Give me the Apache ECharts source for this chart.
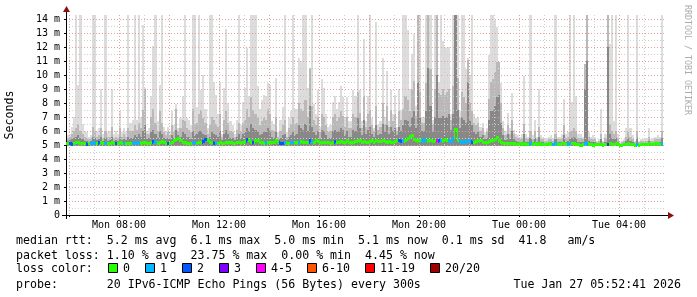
<!DOCTYPE html>
<html><head><meta charset="utf-8">
<script src="https://cdn.jsdelivr.net/npm/echarts@6/dist/echarts.min.js"></script>
<style>html,body{margin:0;padding:0;background:#fff}#c{width:697px;height:297px}</style>
</head><body><div id="c"></div>
<script>
// ---- time base (hours since Mon 00:00) ----
const firstStepStart = 5 + 50 / 60;          // first 5-minute step starts Mon 05:50
const stepHours = 5 / 60;
const axisStart = 5 + 52 / 60 + 41 / 3600;   // Mon 05:52:41
const axisEnd = axisStart + 24;              // Tue 05:52:41
const yMax = 100 / 7;

// ---- smoke: upper edges of the grey bands per 5-minute step (ms) ----
const maxRtt = [
 5.5,5.7,5.8,6.3,7.0,14.4,9.3,14.4,6.5,6.0,
 5.9,5.6,5.7,14.4,14.4,6.0,6.2,9.0,5.8,14.4,
 5.9,6.0,9.0,5.8,6.0,5.8,7.4,5.9,6.2,5.9,
 14.4,6.6,6.8,14.4,6.8,14.4,7.0,13.6,9.1,6.0,
 6.2,8.5,12.1,14.4,6.7,9.3,14.4,6.3,6.0,6.3,
 6.0,7.4,6.4,7.9,6.2,6.9,8.5,14.4,6.9,6.8,
 6.4,14.4,14.4,7.7,14.4,8.9,10.0,7.6,6.2,14.4,
 14.4,9.5,8.6,7.2,9.5,5.8,9.1,13.3,8.0,6.7,
 6.4,5.8,6.8,14.4,6.4,8.1,9.1,11.9,8.5,14.4,
 14.4,14.4,9.2,7.6,8.2,8.6,8.5,9.4,9.3,6.7,
 6.5,9.8,5.9,6.8,7.7,14.4,5.9,6.9,7.4,14.4,
 7.6,7.6,11.2,11.0,14.4,14.4,9.1,10.5,14.4,7.9,
 7.2,8.9,6.3,9.7,9.1,7.2,6.3,6.4,8.1,8.5,
 7.6,8.1,9.2,8.4,6.9,8.4,6.7,6.7,8.9,8.5,
 14.4,8.9,6.7,12.6,6.7,8.5,14.4,6.9,6.2,13.8,
 6.4,6.7,11.2,7.0,10.3,6.7,8.9,7.2,8.6,6.3,
 9.0,7.5,14.4,14.4,13.2,9.0,11.5,12.9,7.8,14.4,
 14.4,7.0,7.0,14.4,14.4,14.4,6.8,14.4,14.4,9.5,
 14.4,12.4,12.0,11.9,12.0,7.2,14.4,14.4,14.4,7.4,
 14.4,14.4,10.4,11.2,10.0,14.4,7.2,6.9,7.0,6.3,
 6.6,5.9,6.2,11.4,14.4,14.4,13.9,13.4,10.9,9.4,
 6.7,6.0,7.3,6.2,8.7,6.1,5.8,5.7,5.6,5.8,
 9.9,5.8,5.6,14.4,5.7,6.8,5.6,9.0,5.7,5.6,
 5.5,5.5,5.6,5.7,5.5,14.4,5.6,5.6,5.8,8.3,
 5.8,5.9,14.4,8.1,14.4,8.5,5.8,5.8,5.6,10.8,
 14.4,5.9,5.6,5.7,5.6,5.3,5.4,7.6,5.3,5.8,
 14.4,12.2,14.4,6.7,14.4,5.8,5.2,5.3,5.4,6.2,
 14.4,6.2,5.7,5.3,14.4,5.3,5.4,5.4,5.5,5.5,
 6.2,5.4,5.5,5.6,5.7,5.6,14.4
];
const hiRtt = [
 5.4,5.5,5.6,5.8,6.0,6.2,6.5,6.0,5.8,5.6,
 5.5,5.4,5.5,6.3,6.0,5.6,5.7,6.2,5.5,6.0,
 5.6,5.6,6.3,5.5,5.6,5.5,6.2,5.6,5.8,5.6,
 6.2,6.0,6.0,6.4,6.1,6.6,6.2,7.5,9.0,5.8,
 5.8,7.0,7.6,6.6,6.0,7.4,6.6,5.9,5.7,5.9,
 5.7,6.4,5.9,7.6,5.9,6.2,6.8,6.7,6.2,6.1,
 5.9,7.6,6.5,6.6,7.2,7.5,6.9,6.6,5.8,6.4,
 7.0,6.8,6.5,6.3,7.2,5.6,6.8,7.4,6.6,6.0,
 5.9,5.6,6.1,6.6,5.9,6.6,6.8,7.6,7.0,8.4,
 7.5,7.2,6.9,6.4,6.7,6.9,6.8,7.6,7.2,6.1,
 6.0,7.0,5.6,6.0,6.4,6.8,5.6,6.2,6.5,7.0,
 6.5,6.6,8.0,7.6,7.4,8.2,7.0,10.5,7.8,6.8,
 6.4,7.0,5.9,7.2,7.0,6.4,5.9,6.0,7.0,7.2,
 6.7,7.0,7.4,7.1,6.3,7.0,6.2,6.2,7.2,7.0,
 8.8,7.3,6.2,8.5,6.3,7.2,7.5,6.4,6.0,7.8,
 6.1,6.3,8.0,6.5,7.8,6.3,7.5,6.7,7.2,6.0,
 7.4,6.8,7.6,8.5,8.2,7.4,8.9,9.6,7.1,14.4,
 8.8,6.6,6.6,9.4,14.4,10.4,6.5,9.0,14.4,8.7,
 8.6,9.0,8.6,8.8,9.0,6.8,9.2,14.4,9.8,6.9,
 8.8,8.4,8.0,11.1,8.0,7.4,6.6,6.4,6.6,6.0,
 6.2,5.7,5.9,8.3,9.5,9.7,10.2,10.9,10.9,8.0,
 6.2,5.7,6.4,5.8,6.8,5.8,5.6,5.5,5.4,5.5,
 6.5,5.5,5.4,6.0,5.4,6.0,5.4,6.3,5.4,5.4,
 5.3,5.3,5.4,5.4,5.3,5.8,5.4,5.4,5.5,6.4,
 5.5,5.6,5.9,6.0,6.2,6.0,5.5,5.5,5.4,10.8,
 14.4,5.6,5.4,5.4,5.4,5.2,5.3,5.8,5.2,5.5,
 14.4,6.5,6.0,5.8,6.0,5.5,5.1,5.2,5.3,5.6,
 5.9,5.6,5.4,5.2,6.0,5.2,5.3,5.3,5.3,5.3,
 5.6,5.3,5.3,5.4,5.4,5.4,6.0
];
const midRtt = [
 5.25,5.3,5.35,5.4,5.5,5.6,5.7,5.5,5.4,5.3,
 5.3,5.25,5.3,5.6,5.5,5.35,5.4,5.6,5.3,5.5,
 5.3,5.35,5.6,5.3,5.35,5.3,5.6,5.35,5.45,5.35,
 5.6,5.5,5.5,5.7,5.55,5.8,5.6,6.0,6.4,5.45,
 5.5,5.9,6.1,5.8,5.5,6.0,5.8,5.5,5.4,5.5,
 5.4,5.7,5.5,6.1,5.7,5.6,5.9,5.8,5.6,5.55,
 5.45,6.0,5.7,5.8,6.0,6.0,5.8,5.7,5.4,5.6,
 5.9,5.8,5.7,5.6,6.0,5.35,5.8,6.1,5.8,5.5,
 5.5,5.35,5.6,5.8,5.5,5.8,5.9,6.2,6.0,6.5,
 6.2,6.1,5.9,5.7,5.8,5.9,5.9,6.2,6.0,5.6,
 5.5,5.9,5.35,5.5,5.7,5.8,5.35,5.6,5.7,5.9,
 5.7,5.8,6.4,6.2,6.1,6.5,6.0,7.8,6.3,5.9,
 5.7,6.0,5.45,6.1,6.0,5.7,5.45,5.5,6.0,6.1,
 5.9,6.0,6.2,6.1,5.7,6.0,5.6,5.6,6.1,6.0,
 6.9,6.2,5.7,6.8,5.8,6.1,6.3,5.8,5.6,6.4,
 5.7,5.8,6.5,5.9,6.4,5.8,6.3,6.0,6.2,5.7,
 6.3,6.0,6.4,6.8,6.7,6.3,7.0,7.4,6.2,9.5,
 7.0,6.0,6.0,7.4,10.5,7.8,5.9,7.0,10.0,6.9,
 6.9,7.1,6.9,7.0,7.2,6.1,7.2,14.4,7.5,6.2,
 7.0,6.8,6.6,9.5,6.7,6.4,5.9,5.8,5.9,5.6,
 5.7,5.4,5.5,6.8,7.4,7.5,7.8,8.4,8.6,6.6,
 5.7,5.35,5.8,5.4,6.0,5.4,5.3,5.25,5.2,5.25,
 5.8,5.25,5.2,5.5,5.2,5.5,5.2,5.6,5.2,5.2,
 5.15,5.15,5.2,5.2,5.15,5.4,5.2,5.2,5.25,5.7,
 5.25,5.3,5.5,5.5,5.6,5.5,5.25,5.25,5.2,9.0,
 11.0,5.3,5.2,5.2,5.2,5.1,5.15,5.4,5.1,5.25,
 12.0,5.8,5.5,5.4,5.5,5.25,5.05,5.1,5.15,5.3,
 5.5,5.3,5.2,5.1,5.5,5.1,5.15,5.15,5.15,5.15,
 5.3,5.15,5.15,5.2,5.2,5.2,5.5
];
// ---- median rtt per step (ms) ----
const medianRtt = [
 5.08,5.1,5.1,5.05,5.12,5.15,5.15,5.1,5.1,5.08,
 5.05,5.08,5.1,5.15,5.12,5.1,5.15,5.2,5.1,5.12,
 5.1,5.1,5.15,5.1,5.12,5.1,5.15,5.1,5.12,5.1,
 5.12,5.1,5.1,5.15,5.12,5.15,5.1,5.15,5.2,5.1,
 5.12,5.2,5.25,5.2,5.12,5.2,5.25,5.15,5.1,5.12,
 5.1,5.15,5.3,5.4,5.45,5.3,5.2,5.15,5.1,5.1,
 5.12,5.15,5.1,5.12,5.15,5.2,5.25,5.4,5.35,5.2,
 5.15,5.1,5.1,5.12,5.15,5.1,5.12,5.15,5.2,5.15,
 5.1,5.12,5.15,5.15,5.12,5.15,5.25,5.4,5.35,5.2,
 5.15,5.3,5.35,5.2,5.15,5.1,5.15,5.2,5.2,5.15,
 5.15,5.3,5.15,5.1,5.12,5.15,5.1,5.12,5.15,5.15,
 5.2,5.15,5.2,5.25,5.2,5.2,5.15,5.3,5.2,5.15,
 5.3,5.25,5.15,5.2,5.2,5.15,5.15,5.12,5.2,5.25,
 5.2,5.2,5.25,5.2,5.15,5.3,5.2,5.15,5.2,5.25,
 5.3,5.35,5.2,5.25,5.2,5.2,5.25,5.3,5.2,5.3,
 5.25,5.25,5.3,5.25,5.2,5.25,5.2,5.2,5.25,5.3,
 5.3,5.25,5.3,5.35,5.45,5.6,5.7,5.4,5.3,5.35,
 5.3,5.25,5.4,5.3,5.35,5.3,5.25,5.3,5.35,5.3,
 5.3,5.35,5.4,5.35,5.3,5.25,5.5,6.1,5.35,5.25,
 5.2,5.25,5.2,5.3,5.25,5.2,5.2,5.25,5.35,5.3,
 5.2,5.2,5.15,5.25,5.3,5.35,5.4,5.55,5.3,5.15,
 5.1,5.1,5.12,5.1,5.1,5.08,5.05,5.05,5.08,5.05,
 5.1,5.05,5.05,5.1,5.05,5.08,5.05,5.1,5.05,5.05,
 5.05,5.05,5.08,5.05,5.05,5.1,5.05,5.05,5.08,5.1,
 5.05,5.05,5.1,5.08,5.1,5.05,5.02,5.0,5.05,5.1,
 5.1,5.05,5.02,5.0,5.05,5.05,5.02,5.05,5.0,5.02,
 5.05,5.1,5.05,5.05,5.08,5.05,5.0,5.0,5.02,5.05,
 5.08,5.05,5.02,5.0,5.05,5.0,5.02,5.05,5.05,5.05,
 5.08,5.05,5.05,5.08,5.1,5.05,5.1
];
// ---- lost pings (of 20) at steps with loss: [step, lost] ----
const lossEvents = [
 [2,2],[3,2],[10,2],[12,1],[13,1],[14,1],[16,2],[19,1],[24,2],[28,1],[32,1],[33,1],[34,1],[35,1],
 [42,2],[43,1],[49,2],[61,1],[62,1],[66,2],[67,2],[71,2],[72,1],[87,2],[90,2],[96,1],
 [103,2],[104,2],[105,1],[108,1],[109,1],[112,1],[117,2],[118,1],[129,2],
 [160,2],[161,2],[162,1],[171,1],[172,1],[173,1],[178,4],[179,2],[180,1],[184,1],[185,1],[186,1],
 [189,1],[190,1],[191,1],[192,1],[193,1],[194,1],[195,2],[223,1],[234,1],[235,1],[241,1],[242,1],
 [249,1],[250,1],[260,3],[274,1],[286,1]
];
const smokeFloor = 4.95;

// ---- axes ----
const xLabelHours = [8, 12, 16, 20, 24, 28];
const xLabelTexts = ['Mon 08:00','Mon 12:00','Mon 16:00','Mon 20:00','Tue 00:00','Tue 04:00'];
const xMajorHours = [6,8,10,12,14,16,18,20,22,24,26,28];
const xMinorHours = [7,9,11,13,15,17,19,21,23,25,27,29];
const yMajor = [0,1,2,3,4,5,6,7,8,9,10,11,12,13,14];
const yMinor = [0.5,1.5,2.5,3.5,4.5,5.5,6.5,7.5,8.5,9.5,10.5,11.5,12.5,13.5];

// ---- legend / texts ----
const lossLegend = [['0','#26ff00'],['1','#00b8ff'],['2','#0059ff'],['3','#7e00ff'],['4-5','#ff00ff'],['6-10','#ff5500'],['11-19','#ff0000'],['20/20','#a10000']];
const statLines = [
 'median rtt:  5.2 ms avg  6.1 ms max  5.0 ms min  5.1 ms now  0.1 ms sd  41.8   am/s',
 'packet loss: 1.10 % avg  23.75 % max  0.00 % min  4.45 % now',
 'loss color:',
 'probe:       20 IPv6-ICMP Echo Pings (56 Bytes) every 300s'
];
const stampText = 'Tue Jan 27 05:52:41 2026';
const creditText = 'RRDTOOL / TOBI OETIKER';

const MONO = '"DejaVu Sans Mono", monospace';
const majorGrid = '#e2a0a0';
const minorGrid = '#cfcfcf';
const smokeShades = ['#dcdcdc', '#b9b9b9', '#888888'];

const nSteps = maxRtt.length;
const lossByStep = new Array(nSteps).fill(0);
lossEvents.forEach(([k, l]) => { lossByStep[k] = l; });
function lossBucket(l) { if (l <= 3) return l; if (l <= 5) return 4; if (l <= 10) return 5; if (l <= 19) return 6; return 7; }

const smokeData = maxRtt.map((m, i) => [i, firstStepStart + i * stepHours, firstStepStart + (i + 1) * stepHours, m, hiRtt[i], midRtt[i]]);
const medianData = medianRtt.map((m, i) => [i, firstStepStart + i * stepHours, firstStepStart + (i + 1) * stepHours, m, i > 0 ? medianRtt[i - 1] : m, lossByStep[i]]);

function stepX(api) {
  const t0 = Math.max(api.value(1), axisStart), t1 = Math.min(api.value(2), axisEnd);
  return [Math.round(api.coord([t0, 0])[0]), Math.round(api.coord([t1, 0])[0]), t0];
}
function renderSmoke(params, api) {
  const [x0, x1, t0] = stepX(api);
  const yb = Math.round(api.coord([t0, smokeFloor])[1]);
  const children = [3, 4, 5].map((dim, j) => {
    const yt = Math.round(api.coord([t0, Math.min(api.value(dim), yMax)])[1]);
    return {type: 'rect', shape: {x: x0, y: yt, width: x1 - x0, height: yb - yt}, style: {fill: smokeShades[j]}};
  });
  return {type: 'group', children};
}
function renderMedian(params, api) {
  const [x0, x1, t0] = stepX(api);
  const y = api.coord([t0, api.value(3)])[1];
  const yp = api.coord([t0, api.value(4)])[1];
  const color = lossLegend[lossBucket(api.value(5))][1];
  return {type: 'group', children: [
    {type: 'rect', shape: {x: x0, y: Math.round(y - 1.5), width: x1 - x0, height: 3}, style: {fill: color}},
    {type: 'rect', shape: {x: x0, y: Math.round(Math.min(y, yp) - 1.5), width: 1, height: Math.round(Math.abs(y - yp)) + 3}, style: {fill: color}}
  ]};
}

// ---- bottom texts and legend graphics ----
const G = {left: 66, top: 15, width: 600, height: 200};
const charW = 7.0;
const rowsY = [241, 256, 269, 284.5];
const graphics = [];
statLines.forEach((t, i) => graphics.push({type: 'text', x: 16, y: rowsY[i], style: {text: t, font: '11.6px ' + MONO, fill: '#000', align: 'left', verticalAlign: 'middle', textAlign: 'left', textVerticalAlign: 'middle'}}));
graphics.push({type: 'text', x: 681, y: rowsY[3], style: {text: stampText, font: '11.6px ' + MONO, fill: '#000', align: 'right', verticalAlign: 'middle', textAlign: 'right', textVerticalAlign: 'middle'}});
let bx = 108;
lossLegend.forEach(([lab, col]) => {
  graphics.push({type: 'rect', shape: {x: bx + 0.5, y: 263.5, width: 9, height: 9}, style: {fill: col, stroke: '#000', lineWidth: 1}});
  graphics.push({type: 'text', x: bx + 15, y: rowsY[2], style: {text: lab, font: '11.6px ' + MONO, fill: '#000', align: 'left', verticalAlign: 'middle', textAlign: 'left', textVerticalAlign: 'middle'}});
  bx += 15 + lab.length * charW + 15;
});
graphics.push({type: 'text', x: 687, y: 5, rotation: -Math.PI / 2, style: {text: creditText, font: '8.3px ' + MONO, fill: '#ababab', align: 'left', verticalAlign: 'middle', textAlign: 'left', textVerticalAlign: 'middle'}});
// axis arrows and small axis extensions
const xr = G.left + G.width, yb = G.top + G.height;
graphics.push({type: 'line', shape: {x1: G.left - 4, y1: yb + 0.5, x2: G.left, y2: yb + 0.5}, style: {stroke: '#000', lineWidth: 1}});
graphics.push({type: 'line', shape: {x1: G.left + 0.5, y1: yb, x2: G.left + 0.5, y2: yb + 4}, style: {stroke: '#000', lineWidth: 1}});
graphics.push({type: 'line', shape: {x1: G.left + 0.5, y1: G.top, x2: G.left + 0.5, y2: G.top - 4}, style: {stroke: '#000', lineWidth: 1}});
graphics.push({type: 'line', shape: {x1: xr, y1: yb + 0.5, x2: xr + 2, y2: yb + 0.5}, style: {stroke: '#000', lineWidth: 1}});
graphics.push({type: 'polygon', shape: {points: [[xr + 2, yb - 3], [xr + 8, yb + 0.5], [xr + 2, yb + 4]]}, style: {fill: '#8b1010'}});
graphics.push({type: 'polygon', shape: {points: [[G.left - 3, G.top - 3], [G.left + 0.5, G.top - 9], [G.left + 4, G.top - 3]]}, style: {fill: '#8b1010'}});

const chart = echarts.init(document.getElementById('c'), null, {renderer: 'canvas'});
chart.setOption({
  animation: false,
  backgroundColor: '#ffffff',
  grid: {left: G.left, top: G.top, width: G.width, height: G.height, containLabel: false, outerBoundsMode: 'none'},
  xAxis: [
    {type: 'value', min: axisStart, max: axisEnd, z: 3,
     axisLine: {show: true, lineStyle: {color: '#000', width: 1}},
     axisTick: {show: true, length: 2, customValues: xMajorHours, lineStyle: {color: '#000'}},
     axisLabel: {customValues: xLabelHours, formatter: v => xLabelTexts[xLabelHours.indexOf(Math.round(v))] || '', fontFamily: MONO, fontSize: 10, color: '#000', margin: 5},
     splitLine: {show: true, lineStyle: {color: majorGrid, type: [1, 2], width: 1}}},
    {type: 'value', min: axisStart, max: axisEnd, z: 3,
     axisLine: {show: false}, axisTick: {show: false, customValues: xMinorHours}, axisLabel: {show: false, customValues: xMinorHours},
     splitLine: {show: true, lineStyle: {color: minorGrid, type: [1, 2], width: 1}}}
  ],
  yAxis: [
    {type: 'value', min: 0, max: yMax, z: 3, name: 'Seconds', nameLocation: 'middle', nameGap: 50,
     nameTextStyle: {fontFamily: MONO, fontSize: 11.6, color: '#000'},
     axisLine: {show: true, lineStyle: {color: '#000', width: 1}},
     axisTick: {show: true, length: 2, customValues: yMajor, lineStyle: {color: '#000'}},
     axisLabel: {customValues: yMajor, formatter: v => v === 0 ? '0' : Math.round(v) + ' m', fontFamily: MONO, fontSize: 10, color: '#000', margin: 6},
     splitLine: {show: true, lineStyle: {color: majorGrid, type: [1, 2], width: 1}}},
    {type: 'value', min: 0, max: yMax, z: 3,
     axisLine: {show: false}, axisTick: {show: false, customValues: yMinor}, axisLabel: {show: false, customValues: yMinor},
     splitLine: {show: true, lineStyle: {color: minorGrid, type: [1, 2], width: 1}}}
  ],
  series: [
    {type: 'custom', name: 'smoke', xAxisIndex: 0, yAxisIndex: 0, z: 2, clip: true, silent: true,
     renderItem: renderSmoke, data: smokeData, encode: {x: [1, 2], y: [3, 4, 5]}},
    {type: 'custom', name: 'median', xAxisIndex: 0, yAxisIndex: 0, z: 5, clip: true, silent: true,
     renderItem: renderMedian, data: medianData, encode: {x: [1, 2], y: [3]}}
  ],
  graphic: graphics
});
</script>
</body></html>
